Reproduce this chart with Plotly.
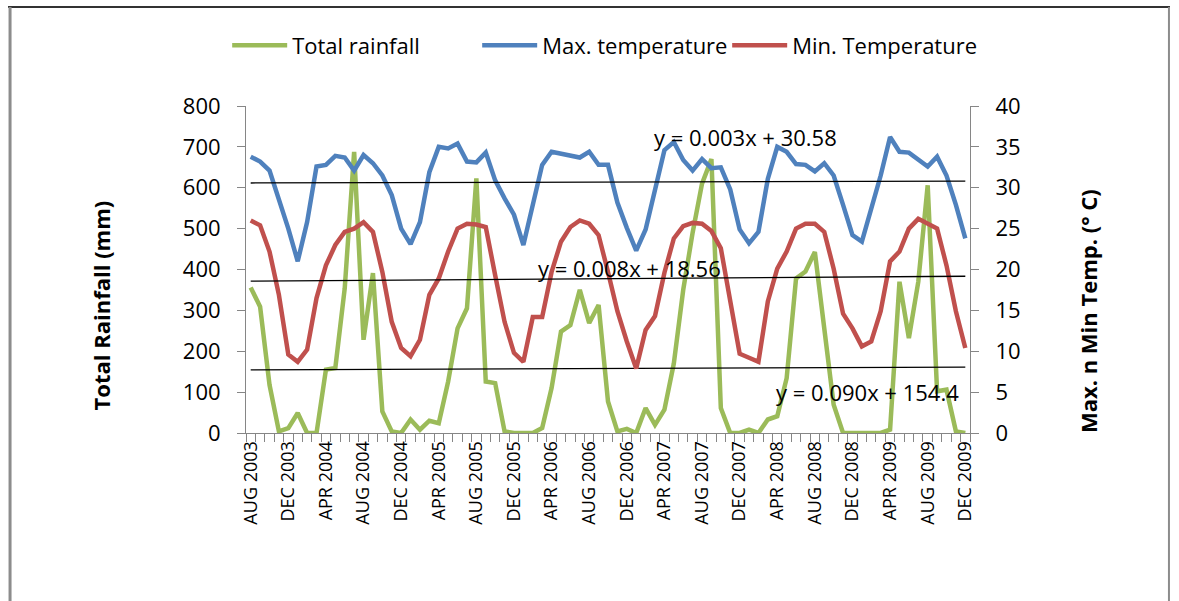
import plotly.graph_objects as go

# ---------------- data ----------------
month_index = list(range(77))  # AUG 2003 ... DEC 2009, monthly

tick_labels = ["AUG 2003", "DEC 2003", "APR 2004", "AUG 2004", "DEC 2004",
               "APR 2005", "AUG 2005", "DEC 2005", "APR 2006", "AUG 2006",
               "DEC 2006", "APR 2007", "AUG 2007", "DEC 2007", "APR 2008",
               "AUG 2008", "DEC 2008", "APR 2009", "AUG 2009", "DEC 2009"]
tick_positions = list(range(0, 77, 4))

rainfall = [356, 309, 118, 4, 12, 49, 0, 0, 155, 159,
            354, 688, 228, 391, 53, 4, 0, 33, 8, 30,
            24, 126, 256, 305, 623, 126, 122, 4, 0, 0,
            0, 12, 110, 248, 264, 350, 269, 313, 77, 4,
            10, 0, 61, 20, 57, 170, 350, 490, 610, 670,
            61, 0, 0, 8, 0, 33, 41, 134, 378, 395,
            443, 256, 69, 0, 0, 0, 0, 0, 8, 370,
            232, 370, 606, 102, 106, 4, 0]

max_temp = [33.8, 33.2, 32.1, 28.7, 25.0, 21.0, 25.8, 32.6, 32.8, 33.9,
            33.7, 32.1, 34.0, 33.0, 31.5, 29.1, 25.0, 23.1, 25.8, 31.9,
            35.0, 34.8, 35.4, 33.2, 33.1, 34.3, 30.9, 28.7, 26.7, 23.0,
            27.9, 32.8, 34.4, 34.2, 33.9, 33.7, 34.4, 32.8, 32.8, 28.2,
            25.1, 22.3, 24.9, 30.0, 34.6, 35.6, 33.4, 32.1, 33.5, 32.4,
            32.5, 29.8, 24.9, 23.2, 24.6, 31.1, 35.0, 34.4, 32.9, 32.8,
            32.0, 33.0, 31.5, 27.9, 24.2, 23.4, 27.5, 31.5, 36.2, 34.4,
            34.3, 33.4, 32.6, 33.8, 31.5, 27.9, 23.8]

min_temp = [26.0, 25.4, 22.2, 16.9, 9.6, 8.7, 10.2, 16.5, 20.5, 23.0,
            24.6, 25.0, 25.8, 24.6, 19.7, 13.6, 10.4, 9.4, 11.4, 16.9,
            18.9, 22.2, 25.0, 25.6, 25.5, 25.2, 19.3, 13.6, 9.8, 8.7,
            14.2, 14.2, 19.7, 23.4, 25.2, 26.0, 25.6, 24.2, 19.7, 14.9,
            11.2, 7.9, 12.6, 14.3, 19.6, 23.8, 25.3, 25.7, 25.6, 24.7,
            22.6, 16.0, 9.7, 9.2, 8.7, 16.1, 20.1, 22.2, 25.0, 25.6,
            25.6, 24.6, 20.1, 14.6, 12.8, 10.6, 11.2, 14.9, 21.0, 22.2,
            25.0, 26.2, 25.6, 25.0, 20.5, 14.9, 10.4]

# linear trend coefficients (slope, intercept) as printed on the chart
trend_rain = (0.090, 154.4)
trend_max = (0.003, 30.58)
trend_min = (0.008, 18.56)

# ---------------- figure ----------------
FONT = "Open Sans"
GREEN, BLUE, RED = "#9BBB59", "#4F81BD", "#C0504D"
AXIS = "#868686"


def trend(coef):
    a, b = coef
    return [a * (i + 1) + b for i in month_index]


fig = go.Figure()
fig.add_trace(go.Scatter(x=month_index, y=rainfall, name="Total rainfall",
                         mode="lines", line=dict(color=GREEN, width=4.5)))
fig.add_trace(go.Scatter(x=month_index, y=max_temp, name="Max. temperature",
                         mode="lines", line=dict(color=BLUE, width=4.5), yaxis="y2"))
fig.add_trace(go.Scatter(x=month_index, y=min_temp, name="Min. Temperature",
                         mode="lines", line=dict(color=RED, width=4.5), yaxis="y2"))

fig.add_trace(go.Scatter(x=month_index, y=trend(trend_rain), mode="lines",
                         line=dict(color="black", width=1.3), showlegend=False,
                         hoverinfo="skip"))
fig.add_trace(go.Scatter(x=month_index, y=trend(trend_max), mode="lines",
                         line=dict(color="black", width=1.3), showlegend=False,
                         yaxis="y2", hoverinfo="skip"))
fig.add_trace(go.Scatter(x=month_index, y=trend(trend_min), mode="lines",
                         line=dict(color="black", width=1.3), showlegend=False,
                         yaxis="y2", hoverinfo="skip"))


def eq_text(coef):
    a, b = coef
    return f"y = {a:.3f}x + {b:g}"


annotations = [
    dict(x=52.6, y=36.2, xref="x", yref="y2", text=eq_text(trend_max),
         showarrow=False, font=dict(size=22, color="black", family=FONT)),
    dict(x=40.3, y=20.2, xref="x", yref="y2", text=eq_text(trend_min),
         showarrow=False, font=dict(size=22, color="black", family=FONT)),
    dict(x=65.6, y=101, xref="x", yref="y", text=eq_text(trend_rain),
         showarrow=False, font=dict(size=22, color="black", family=FONT)),
    dict(x=-0.199, y=0.39, xref="paper", yref="paper", xanchor="center", yanchor="middle",
         text="<b>Total Rainfall (mm)</b>",
         textangle=-90, showarrow=False, font=dict(size=22, color="black", family=FONT)),
    dict(x=1.163, y=0.373, xref="paper", yref="paper", xanchor="center", yanchor="middle",
         text="<b>Max. n Min Temp. (° C)</b>",
         textangle=-90, showarrow=False, font=dict(size=22, color="black", family=FONT)),
]

# chart-area frame (top + left + right edges)
shapes = [
    dict(type="line", xref="paper", yref="paper", x0=-0.3287, x1=1.2762, y0=1.3028, y1=1.3028,
         line=dict(color="#333333", width=2)),
    dict(type="line", xref="paper", yref="paper", x0=-0.3259, x1=-0.3259, y0=1.3028, y1=-0.6,
         line=dict(color="#8C8C8C", width=3)),
    dict(type="line", xref="paper", yref="paper", x0=1.2748, x1=1.2748, y0=1.3028, y1=-0.6,
         line=dict(color="#8C8C8C", width=2)),
]

fig.update_layout(
    width=1179, height=601,
    margin=dict(l=246, r=209, t=106, b=168),
    paper_bgcolor="white", plot_bgcolor="white",
    font=dict(family=FONT, size=22, color="black"),
    showlegend=True,
    legend=dict(orientation="h", x=-0.026, xanchor="left", y=1.185, yanchor="middle",
                font=dict(size=22, family=FONT), itemwidth=55,
                entrywidth=180, entrywidthmode="pixels", bgcolor="rgba(0,0,0,0)"),
    xaxis=dict(range=[-0.5, 76.5], tickmode="array", tickvals=tick_positions,
               ticktext=tick_labels, tickangle=-90, ticks="", showgrid=False,
               zeroline=False, showline=True, linecolor=AXIS, linewidth=1,
               tickfont=dict(size=18, family=FONT),
               minor=dict(tickmode="linear", tick0=-0.5, dtick=1, ticks="outside",
                          ticklen=8, tickcolor=AXIS, tickwidth=1, showgrid=False)),
    yaxis=dict(range=[0, 800], dtick=100, ticks="outside", ticklen=8, tickcolor=AXIS,
               showgrid=False, zeroline=False, showline=True, linecolor=AXIS,
               tickfont=dict(size=22, family=FONT), ticklabelstandoff=12),
    yaxis2=dict(range=[0, 40], dtick=5, overlaying="y", side="right", ticks="outside",
                ticklen=8, tickcolor=AXIS, showgrid=False, zeroline=False, showline=True,
                linecolor=AXIS, tickfont=dict(size=22, family=FONT), ticklabelstandoff=12),
    annotations=annotations,
    shapes=shapes,
)

fig.write_html("out.html")
